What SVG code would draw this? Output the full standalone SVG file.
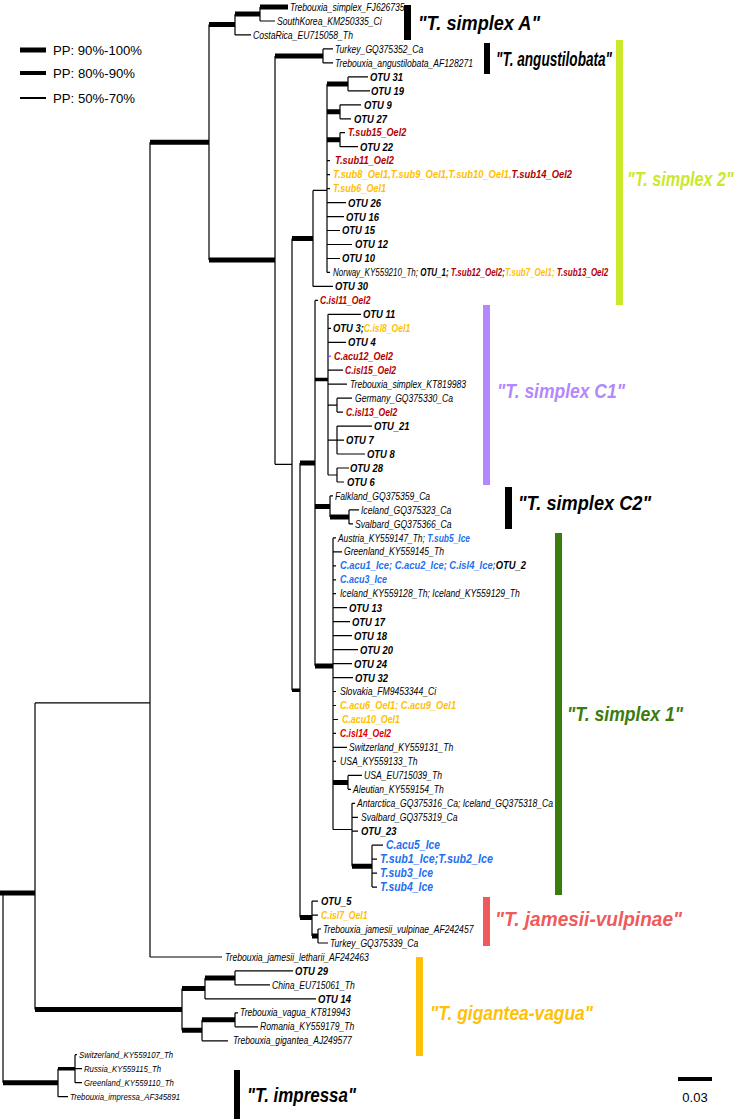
<svg xmlns="http://www.w3.org/2000/svg" width="750" height="1119" viewBox="0 0 750 1119">
<style>
.v,.h0{stroke:#000;stroke-width:1.2;fill:none}
.h2{stroke:#000;stroke-width:5;fill:none}
.h1{stroke:#000;stroke-width:3.5;fill:none}
text{font-family:'Liberation Sans',Arial,sans-serif}
.n{font-style:italic;font-size:10.5px;fill:#000}
.s{font-style:italic;font-size:9.5px;fill:#000}
.o{font-style:italic;font-weight:bold;font-size:11.5px;fill:#000}
.c{font-style:italic;font-weight:bold;font-size:10.5px}
.ice{font-size:12px}
.r{fill:#b40000}.y{fill:#ffbf00}.bl{fill:#1f6fef}.rr{fill:#e00000}.k{fill:#000}
.cl{font-style:italic;font-weight:bold;font-size:21px}
.lg{font-size:13.5px;fill:#000}
</style>
<rect width="750" height="1119" fill="#fff"/>
<g id="legend">
<path d="M20 50H46" stroke="#000" stroke-width="5"/>
<path d="M20 73H46" stroke="#000" stroke-width="4"/>
<path d="M20 98H46" stroke="#000" stroke-width="2"/>
<text class="lg" x="53" y="55" textLength="89" lengthAdjust="spacingAndGlyphs">PP: 90%-100%</text>
<text class="lg" x="53" y="78" textLength="82" lengthAdjust="spacingAndGlyphs">PP: 80%-90%</text>
<text class="lg" x="53" y="103" textLength="82" lengthAdjust="spacingAndGlyphs">PP: 50%-70%</text>
</g>
<g id="connectors">
<path class="v" d="M260 7V21M235 14V34.9M209 24.5V260.1M323 48.9V62.9M275 55.9V464.3M348 76.9V90.8M340 104.8V118.8M340 132.7V146.7M327 83.9V272.4M313 190.4V286.4M292 238.4V690.3M315 300.4V666.1M328 314.3V475M337 398.2V412.1M337 426.1V454M337 468V482M330 495.9V516.9M349 509.9V523.9M333 537.9V829.5M348 775.4V789.3M352 803.3V866.2M372 845.2V887.1M300 463.1V917.4M312 901.1V936M318 929V943M150 142.3V957M235 970.9V984.9M205 977.9V998.9M235 1012.8V1026.8M202 1019.8V1040.8M182 988.4V1030.3M35 702.9V1009.4M3 893V1082.7M75 1054.7V1082.7M58 1068.7V1096.7"/>
<path class="h0" d="M275 464.3H292M313 190.4H327M333 829.5H352M35 702.9H150M260 21H275M235 34.9H251M323 48.9H333M323 62.9H333M348 76.9H368M348 90.8H370M340 104.8H361M340 118.8H351M340 132.7H345M340 146.7H358M327 160.7H330M327 174.6H330M327 188.6H330M327 202.6H346M327 216.6H344M327 230.5H340M327 244.5H352M327 258.5H340M327 272.4H330M313 286.4H333M315 300.4H318M328 314.3H361M328 328.3H331M328 342.3H346M328 370.2H343M328 384.2H347M328 405.2H337M337 398.2H352M337 412.1H343M328 440.1H337M337 426.1H372M337 440.1H344M337 454H365M328 475H337M337 468H349M337 482H344M330 495.9H333M349 509.9H359M349 523.9H353M333 537.9H336M333 551.8H342M333 565.8H336M333 579.8H336M333 593.7H336M333 607.7H347M333 621.7H350M333 635.6H352M333 649.6H358M333 663.6H352M333 677.6H353M333 691.5H336M333 705.5H336M333 719.5H338M333 733.4H336M333 747.4H347M333 761.4H336M348 775.4H362M348 789.3H351M352 803.3H355M352 817.3H358M352 831.2H358M372 845.2H383M372 859.2H377M372 873.1H377M372 887.1H377M312 901.1H318M312 915.1H318M318 929H321M318 943H328M150 957H222M235 970.9H293M235 984.9H270M205 998.9H316M235 1012.8H238M235 1026.8H258M202 1040.8H228M75 1054.7H77M75 1068.7H82M75 1082.7H82M58 1096.7H68"/>
<path d="M328 356.2H331" stroke="#7a3cff" stroke-width="1.2"/>
<path class="h2" d="M260 7H288M235 14H260M209 24.5H235M150 142.3H209M209 260.1H275M275 55.9H323M292 238.4H313M327 83.9H348M327 111.8H340M327 139.7H340M300 463.1H315M315 506.4H330M330 516.9H349M315 666.1H333M333 782.4H348M352 866.2H372M300 917.4H312M312 936H318M35 1009.4H182M182 988.4H205M205 977.9H235M182 1030.3H202M202 1019.8H235M0 893H35M3 1082.7H58"/>
<path class="h1" d="M292 690.3H300M315 379.5H328M58 1068.7H75"/>
</g>
<g id="leaves" transform="scale(0.82 1)">
<g id="n1"><text class="n" x="353.7" y="10.7">Trebouxia_simplex_FJ626735</text></g>
<g id="n2"><text class="n" x="337.8" y="24.7">SouthKorea_KM250335_Ci</text></g>
<g id="n3"><text class="n" x="308.5" y="38.6">CostaRica_EU715058_Th</text></g>
<g id="n4"><text class="n" x="408.5" y="52.6">Turkey_GQ375352_Ca</text></g>
<g id="n5"><text class="n" x="408.5" y="66.6">Trebouxia_angustilobata_AF128271</text></g>
<g id="n6"><text class="o" x="451.2" y="80.9">OTU 31</text></g>
<g id="n7"><text class="o" x="452.4" y="94.8">OTU 19</text></g>
<g id="n8"><text class="o" x="443.9" y="108.8">OTU 9</text></g>
<g id="n9"><text class="o" x="431.7" y="122.8">OTU 27</text></g>
<g id="n10"><text class="c r" x="424.4" y="136.4" textLength="71" lengthAdjust="spacingAndGlyphs">T.sub15_Oel2</text></g>
<g id="n11"><text class="o" x="439" y="150.7">OTU 22</text></g>
<g id="n12"><text class="c r" x="408.5" y="164.4" textLength="72" lengthAdjust="spacingAndGlyphs">T.sub11_Oel2</text></g>
<g id="n13"><text class="c y" x="406.1" y="178.3" textLength="291.5" lengthAdjust="spacingAndGlyphs">T.sub8_Oel1,T.sub9_Oel1,T.sub10_Oel1,<tspan class="r">T.sub14_Oel2</tspan></text></g>
<g id="n14"><text class="c y" x="406.1" y="192.3" textLength="64.6" lengthAdjust="spacingAndGlyphs">T.sub6_Oel1</text></g>
<g id="n15"><text class="o" x="424.4" y="206.6">OTU 26</text></g>
<g id="n16"><text class="o" x="422" y="220.6">OTU 16</text></g>
<g id="n17"><text class="o" x="417.1" y="234.5">OTU 15</text></g>
<g id="n18"><text class="o" x="432.9" y="248.5">OTU 12</text></g>
<g id="n19"><text class="o" x="417.1" y="262.5">OTU 10</text></g>
<g id="n20" transform="translate(406.1 276.1) scale(0.93 1)"><text class="n" x="0" y="0">Norway_KY559210_Th; <tspan class="c k">OTU_1;</tspan><tspan class="c r"> T.sub12_Oel2;</tspan><tspan class="c y">T.sub7_Oel1; </tspan><tspan class="c r">T.sub13_Oel2</tspan></text></g>
<g id="n21"><text class="o" x="408.5" y="290.4">OTU 30</text></g>
<g id="n22"><text class="c r" x="390.2" y="304.1">C.isl11_Oel2</text></g>
<g id="n23"><text class="o" x="442.7" y="318.3">OTU 11</text></g>
<g id="n24"><text class="o" x="406.1" y="332.3">OTU 3;<tspan class="c y">C.isl8_Oel1</tspan></text></g>
<g id="n25"><text class="o" x="424.4" y="346.3">OTU 4</text></g>
<g id="n26"><text class="c r" x="407.3" y="359.9" textLength="72" lengthAdjust="spacingAndGlyphs">C.acu12_Oel2</text></g>
<g id="n27"><text class="c r" x="420.7" y="373.9">C.isl15_Oel2</text></g>
<g id="n28"><text class="n" x="426.8" y="387.9">Trebouxia_simplex_KT819983</text></g>
<g id="n29"><text class="n" x="432.9" y="401.9">Germany_GQ375330_Ca</text></g>
<g id="n30"><text class="c r" x="422" y="415.8">C.isl13_Oel2</text></g>
<g id="n31"><text class="o" x="456.1" y="430.1">OTU_21</text></g>
<g id="n32"><text class="o" x="422" y="444.1">OTU 7</text></g>
<g id="n33"><text class="o" x="447.6" y="458">OTU 8</text></g>
<g id="n34"><text class="o" x="426.8" y="472">OTU 28</text></g>
<g id="n35"><text class="o" x="423.2" y="486">OTU 6</text></g>
<g id="n36"><text class="n" x="408.5" y="499.6">Falkland_GQ375359_Ca</text></g>
<g id="n37"><text class="n" x="440.2" y="513.6">Iceland_GQ375323_Ca</text></g>
<g id="n38"><text class="n" x="432.9" y="527.6">Svalbard_GQ375366_Ca</text></g>
<g id="n39"><text class="n" x="412.2" y="541.6" textLength="161" lengthAdjust="spacingAndGlyphs">Austria_KY559147_Th; <tspan class="c bl">T.sub5_Ice</tspan></text></g>
<g id="n40"><text class="n" x="419.5" y="555.5">Greenland_KY559145_Th</text></g>
<g id="n41"><text class="c bl" x="414.6" y="569.5" textLength="226.8" lengthAdjust="spacingAndGlyphs">C.acu1_Ice; C.acu2_Ice; C.isl4_Ice;<tspan class="k">OTU_2</tspan></text></g>
<g id="n42"><text class="c bl" x="414.6" y="583.5" textLength="57.3" lengthAdjust="spacingAndGlyphs">C.acu3_Ice</text></g>
<g id="n43"><text class="n" x="414.6" y="597.4">Iceland_KY559128_Th; Iceland_KY559129_Th</text></g>
<g id="n44"><text class="o" x="425.6" y="611.7">OTU 13</text></g>
<g id="n45"><text class="o" x="429.3" y="625.7">OTU 17</text></g>
<g id="n46"><text class="o" x="431.7" y="639.6">OTU 18</text></g>
<g id="n47"><text class="o" x="439" y="653.6">OTU 20</text></g>
<g id="n48"><text class="o" x="431.7" y="667.6">OTU 24</text></g>
<g id="n49"><text class="o" x="432.9" y="681.6">OTU 32</text></g>
<g id="n50"><text class="n" x="414.6" y="695.2">Slovakia_FM9453344_Ci</text></g>
<g id="n51"><text class="c y" x="414.6" y="709.2" textLength="141.5" lengthAdjust="spacingAndGlyphs">C.acu6_Oel1; C.acu9_Oel1</text></g>
<g id="n52"><text class="c y" x="417.1" y="723.2" textLength="70.7" lengthAdjust="spacingAndGlyphs">C.acu10_Oel1</text></g>
<g id="n53"><text class="c rr" x="414.6" y="737.1">C.isl14_Oel2</text></g>
<g id="n54"><text class="n" x="425.6" y="751.1">Switzerland_KY559131_Th</text></g>
<g id="n55"><text class="n" x="414.6" y="765.1">USA_KY559133_Th</text></g>
<g id="n56"><text class="n" x="443.9" y="779.1">USA_EU715039_Th</text></g>
<g id="n57"><text class="n" x="430.5" y="793">Aleutian_KY559154_Th</text></g>
<g id="n58"><text class="n" x="435.4" y="807">Antarctica_GQ375316_Ca; Iceland_GQ375318_Ca</text></g>
<g id="n59"><text class="n" x="440.2" y="821">Svalbard_GQ375319_Ca</text></g>
<g id="n60"><text class="o" x="440.2" y="835.2">OTU_23</text></g>
<g id="n61"><text class="c bl ice" x="470.7" y="849.4" textLength="65.9" lengthAdjust="spacingAndGlyphs">C.acu5_Ice</text></g>
<g id="n62"><text class="c bl ice" x="463.4" y="863.4" textLength="137.8" lengthAdjust="spacingAndGlyphs">T.sub1_Ice;T.sub2_Ice</text></g>
<g id="n63"><text class="c bl ice" x="463.4" y="877.3" textLength="64.6" lengthAdjust="spacingAndGlyphs">T.sub3_Ice</text></g>
<g id="n64"><text class="c bl ice" x="463.4" y="891.3" textLength="64.6" lengthAdjust="spacingAndGlyphs">T.sub4_Ice</text></g>
<g id="n65"><text class="o" x="391.5" y="905.1">OTU_5</text></g>
<g id="n66"><text class="c y" x="391.5" y="918.8">C.isl7_Oel1</text></g>
<g id="n67"><text class="n" x="393.9" y="932.7">Trebouxia_jamesii_vulpinae_AF242457</text></g>
<g id="n68"><text class="n" x="402.4" y="946.7">Turkey_GQ375339_Ca</text></g>
<g id="n69"><text class="n" x="274.4" y="960.7">Trebouxia_jamesii_letharii_AF242463</text></g>
<g id="n70"><text class="o" x="359.8" y="974.9">OTU 29</text></g>
<g id="n71"><text class="n" x="331.7" y="988.6">China_EU715061_Th</text></g>
<g id="n72"><text class="o" x="387.8" y="1002.9">OTU 14</text></g>
<g id="n73"><text class="n" x="292.7" y="1016.5">Trebouxia_vagua_KT819943</text></g>
<g id="n74"><text class="n" x="317.1" y="1030.5">Romania_KY559179_Th</text></g>
<g id="n75"><text class="n" x="284.1" y="1044.5">Trebouxia_gigantea_AJ249577</text></g>
<g id="n76"><text class="s" x="96.3" y="1058">Switzerland_KY559107_Th</text></g>
<g id="n77"><text class="s" x="102.4" y="1072">Russia_KY559115_Th</text></g>
<g id="n78"><text class="s" x="102.4" y="1086">Greenland_KY559110_Th</text></g>
<g id="n79"><text class="s" x="85.4" y="1100">Trebouxia_impressa_AF345891</text></g>
</g>
<g id="clades">
<g id="cladeA"><rect x="404" y="5" width="7" height="35" fill="#000"/><text class="cl" x="418" y="29.5" fill="#000" textLength="122" lengthAdjust="spacingAndGlyphs">"T. simplex A"</text></g>
<g id="cladeAng"><rect x="484" y="43" width="6" height="31" fill="#000"/><text class="cl" x="496" y="65.5" fill="#000" textLength="116" lengthAdjust="spacingAndGlyphs">"T. angustilobata"</text></g>
<g id="clade2"><rect x="616" y="40" width="7" height="265" fill="#cbe82b"/><g transform="translate(627 185.5) scale(0.77 1)"><text class="cl" x="0" y="0" fill="#cbe82b">"T. simplex 2"</text></g></g>
<g id="cladeC1"><rect x="483" y="305" width="7" height="180" fill="#b388ff"/><text class="cl" x="497" y="397.5" fill="#b388ff" textLength="128" lengthAdjust="spacingAndGlyphs">"T. simplex C1"</text></g>
<g id="cladeC2"><rect x="505" y="487" width="7" height="42" fill="#000"/><text class="cl" x="518" y="509.5" fill="#000" textLength="133" lengthAdjust="spacingAndGlyphs">"T. simplex C2"</text></g>
<g id="clade1"><rect x="555" y="533" width="7" height="362" fill="#3a7d0b"/><text class="cl" x="567" y="720.5" fill="#3a7d0b" textLength="116" lengthAdjust="spacingAndGlyphs">"T. simplex 1"</text></g>
<g id="cladeJV"><rect x="483" y="897" width="7" height="49" fill="#f05a5a"/><text class="cl" x="495" y="925.5" fill="#f05a5a" textLength="187" lengthAdjust="spacingAndGlyphs">"T. jamesii-vulpinae"</text></g>
<g id="cladeGV"><rect x="416" y="957" width="7" height="99" fill="#ffc107"/><text class="cl" x="430" y="1019.5" fill="#ffc107" textLength="163" lengthAdjust="spacingAndGlyphs">"T. gigantea-vagua"</text></g>
<g id="cladeI"><rect x="234" y="1070" width="6" height="49" fill="#000"/><text class="cl" x="247" y="1101.5" fill="#000" textLength="109" lengthAdjust="spacingAndGlyphs">"T. impressa"</text></g>
</g>
<g id="scale">
<path d="M678 1079H712" stroke="#000" stroke-width="4"/>
<text x="695" y="1102" text-anchor="middle" style="font-size:13px;fill:#000">0.03</text>
</g>
</svg>
